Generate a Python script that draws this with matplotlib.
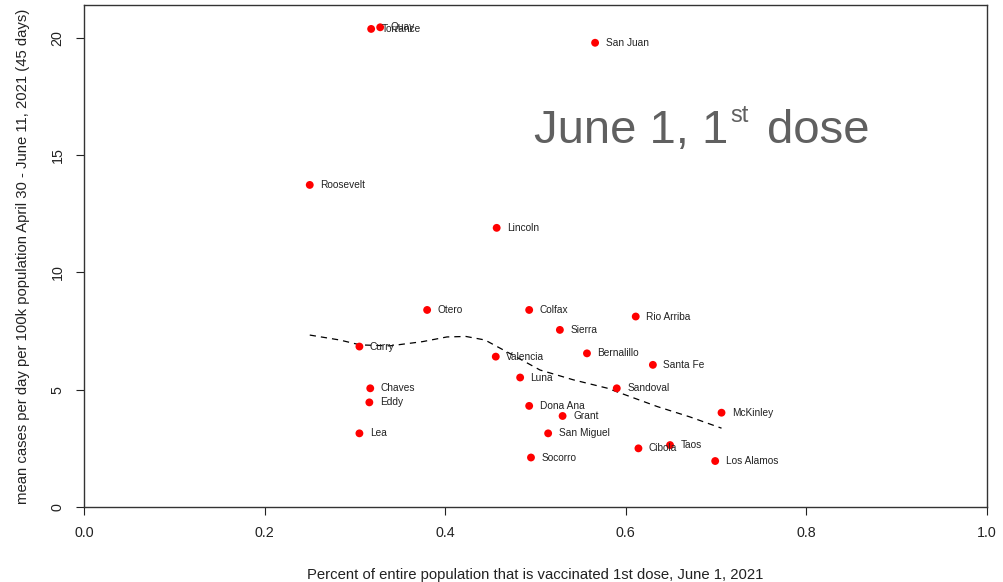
import matplotlib
matplotlib.use("Agg")
import matplotlib.pyplot as plt

plt.rcParams['font.family'] = ['Liberation Sans', 'DejaVu Sans']

counties = ["Quay", "Torrance", "San Juan", "Roosevelt", "Lincoln", "Otero", "Colfax",
            "Rio Arriba", "Sierra", "Curry", "Bernalillo", "Valencia", "Santa Fe", "Luna",
            "Sandoval", "Chaves", "Eddy", "Dona Ana", "McKinley", "Grant", "Lea",
            "San Miguel", "Cibola", "Taos", "Socorro", "Los Alamos"]
vaccinated = [0.328, 0.318, 0.566, 0.250, 0.457, 0.380, 0.493,
              0.611, 0.527, 0.305, 0.557, 0.456, 0.630, 0.483,
              0.590, 0.317, 0.316, 0.493, 0.706, 0.530, 0.305,
              0.514, 0.614, 0.649, 0.495, 0.699]
cases = [20.45, 20.38, 19.79, 13.73, 11.90, 8.40, 8.40,
         8.12, 7.55, 6.84, 6.55, 6.41, 6.06, 5.52,
         5.06, 5.06, 4.46, 4.31, 4.02, 3.88, 3.14,
         3.14, 2.50, 2.64, 2.11, 1.96]

trend_x = [0.250, 0.283, 0.306, 0.339, 0.375, 0.402, 0.423, 0.444, 0.468,
           0.505, 0.542, 0.579, 0.635, 0.671, 0.706]
trend_y = [7.33, 7.12, 6.91, 6.87, 7.05, 7.25, 7.27, 7.12, 6.62,
           5.84, 5.42, 5.07, 4.28, 3.84, 3.36]

x_ticks = [0.0, 0.2, 0.4, 0.6, 0.8, 1.0]
x_ticklabels = ["0.0", "0.2", "0.4", "0.6", "0.8", "1.0"]
y_ticks = [0, 5, 10, 15, 20]

fig = plt.figure(figsize=(10.04, 5.82), dpi=100)
ax = fig.add_axes([84/1004, 75/582, 903/1004, 502/582])

ax.plot(trend_x, trend_y, color='black', linestyle=(0, (5, 4)), linewidth=0.9, zorder=1)
ax.scatter(vaccinated, cases, s=32, color='#ff0000', edgecolors='none', zorder=3)
for name, xv, yv in zip(counties, vaccinated, cases):
    ax.annotate(name, (xv, yv), xytext=(7.5, 0), textcoords='offset points',
                ha='left', va='center', fontsize=7.3, color='#222222', zorder=4)

big_color = '#606060'
ax.text(0.498, 15.52, 'June 1, 1', fontsize=34, color=big_color, ha='left', va='baseline')
ax.text(0.7154, 16.40, 'st', fontsize=17, color=big_color, ha='left', va='baseline')
ax.text(0.756, 15.52, 'dose', fontsize=34, color=big_color, ha='left', va='baseline')

ax.set_xlim(0, 1)
ax.set_ylim(0, 21.4)
ax.set_xticks(x_ticks)
ax.set_xticklabels(x_ticklabels)
ax.set_yticks(y_ticks)
ax.set_yticklabels([str(v) for v in y_ticks], rotation=90, va='center')
ax.tick_params(axis='both', direction='out', length=6, width=0.8, labelsize=10.3,
               colors='#222222', pad=8)
for s in ax.spines.values():
    s.set_color('#333333')
    s.set_linewidth(1.0)

ax.set_xlabel('Percent of entire population that is vaccinated 1st dose, June 1, 2021',
              fontsize=10.7, color='#222222', labelpad=20)
ax.set_ylabel('mean cases per day per 100k population April 30 - June 11, 2021 (45 days)',
              fontsize=10.7, color='#222222', labelpad=15)

fig.savefig('out.png', dpi=100)
